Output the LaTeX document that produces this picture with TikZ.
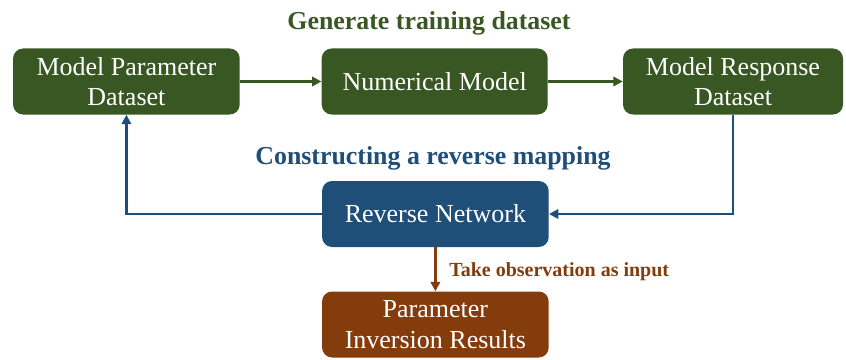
\documentclass[tikz,border=0pt]{standalone}
\usepackage{fontspec}
\setmainfont{Liberation Serif}
\usetikzlibrary{arrows.meta,positioning}
\definecolor{darkgreen}{HTML}{385723}
\definecolor{darkblue}{HTML}{1F4E79}
\definecolor{darkbrown}{HTML}{843C0C}
\tikzset{
         box/.style=
          {
           rounded corners=7.5pt,
           minimum height=49.5pt,
           inner sep=0pt,
           align=center,
           text=white,
           font=\fontsize{19.5}{23}\selectfont
          },
         greenbox/.style={box, fill=darkgreen},
         bluebox/.style={box, fill=darkblue},
         brownbox/.style={box, fill=darkbrown},
         heading/.style={font=\fontsize{19.4}{22}\selectfont\bfseries, anchor=base},
         link/.style={line width=2.1pt, -{Triangle[length=7pt,width=7pt]}}
        }

\begin{document}
\begin{tikzpicture}[x=0.75pt,y=-0.75pt]
      \useasboundingbox (0,0) rectangle (846,360);
      \node[heading,text=darkgreen] (gentitle) at (429,30) {Generate training dataset}; % upper title
      \node[greenbox,minimum width=170pt] (mpd) at (126.4,81.5) {Model Parameter\\Dataset}; % parameters
      \node[greenbox,minimum width=169.5pt] (nm) at (434.7,81.5) {Numerical Model}; % forward model
      \node[greenbox,minimum width=165pt] (mrd) at (733,81.5) {Model Response\\Dataset}; % responses
      \node[heading,text=darkblue] (revtitle) at (433,164) {Constructing a reverse mapping}; % middle title
      \node[bluebox,minimum width=170pt] (rev) at (435.4,214) {Reverse Network}; % network
      \node[brownbox,minimum width=170pt] (res) at (435.4,324.5) {Parameter\\Inversion Results}; % results
      \draw[link,darkgreen] (mpd) -- (nm); % forward wiring
      \draw[link,darkgreen] (nm) -- (mrd);
      \draw[link,darkblue] (rev.west) -| (mpd.south); % reverse wiring
      \draw[link,darkblue] (mrd.south) |- (rev.east);
      \draw[link,darkbrown] (rev) -- (res); % inversion
      \node[font=\fontsize{15}{18}\selectfont\bfseries,text=darkbrown,anchor=base west,inner sep=0pt] (obs) at (449,276) {Take observation as input}; % arrow label
\end{tikzpicture}
\end{document}
